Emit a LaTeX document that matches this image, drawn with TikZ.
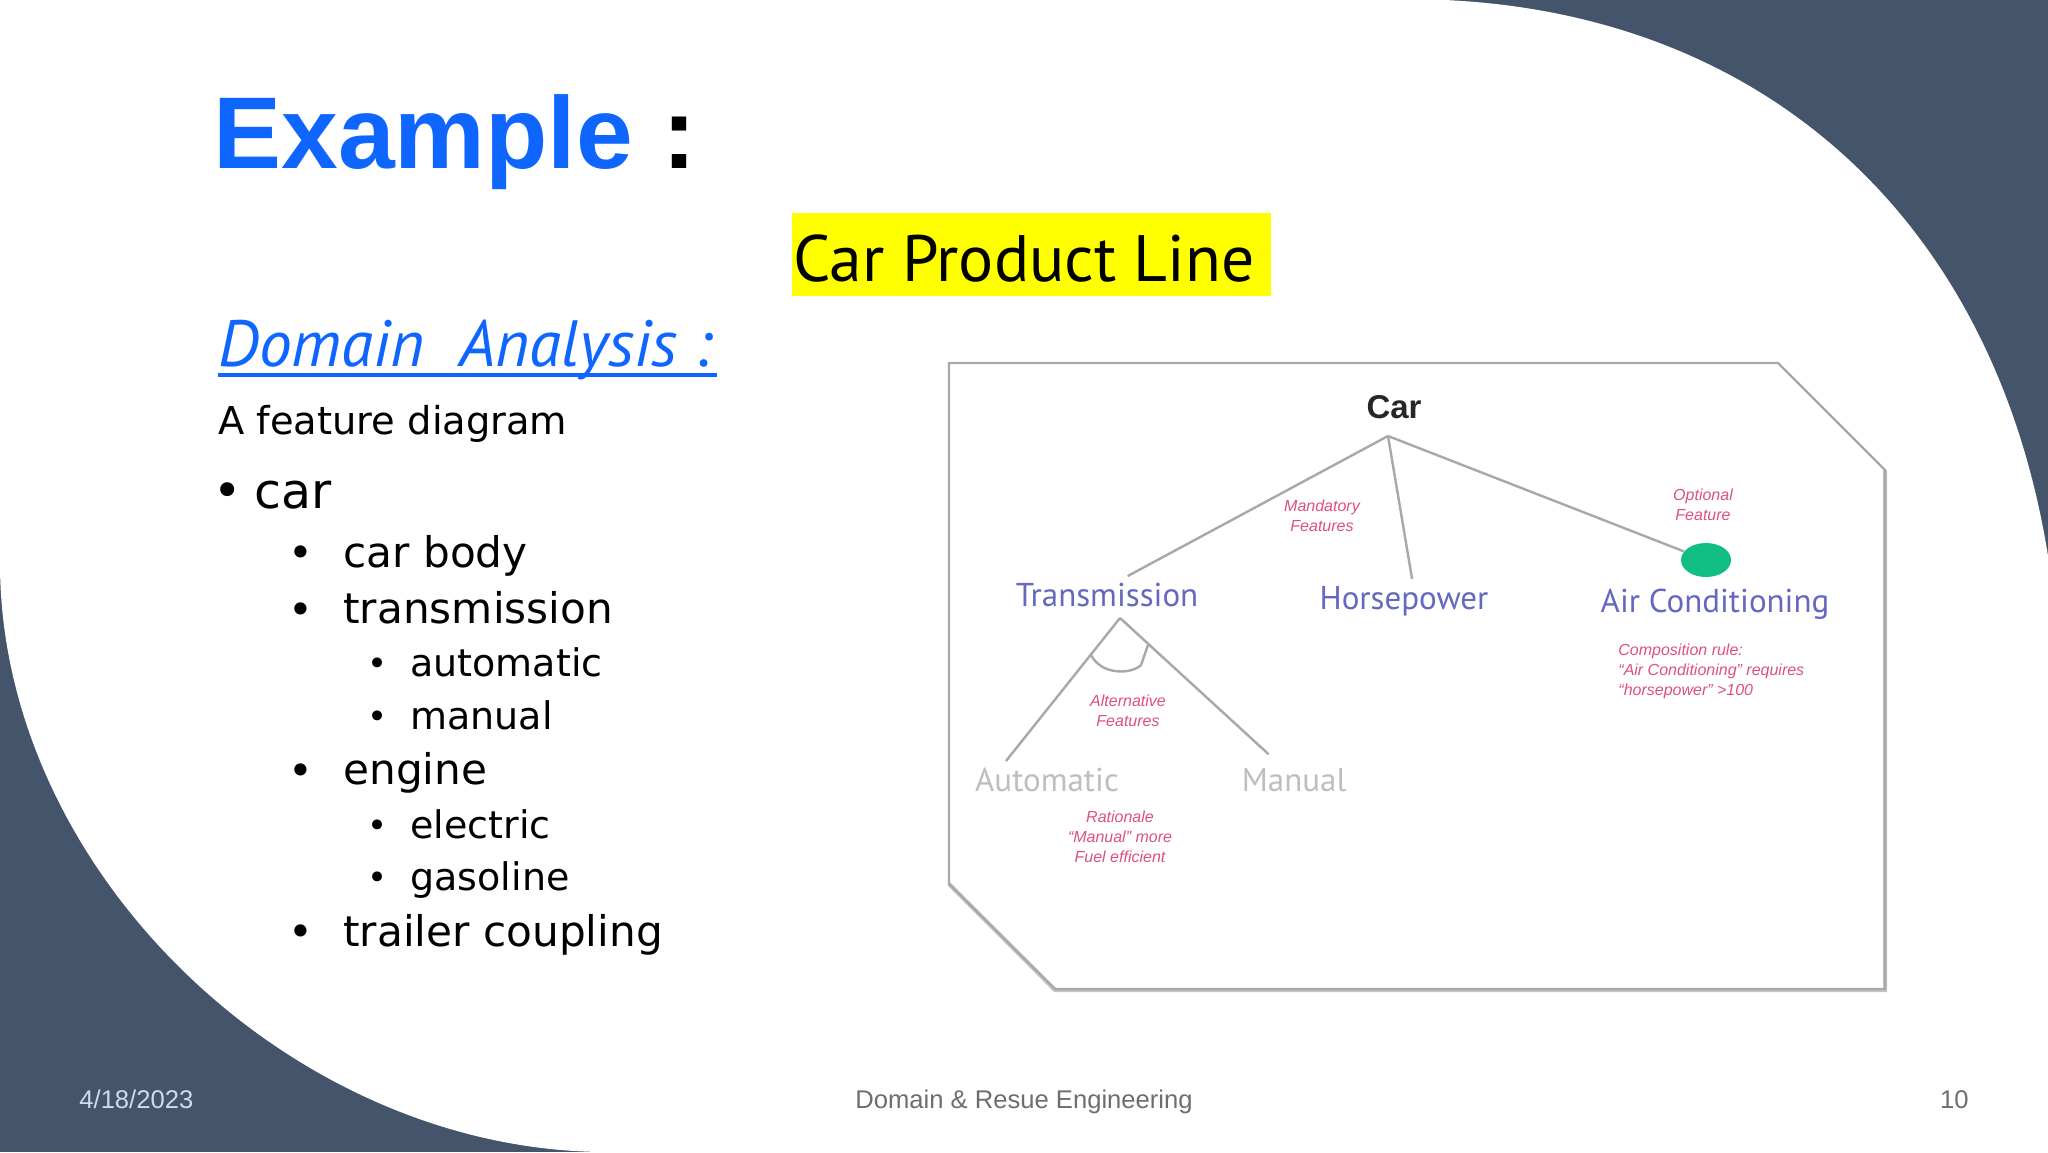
\documentclass[tikz,border=0pt]{standalone}
\usepackage{fontspec}
\usetikzlibrary{shapes.geometric}
\setmainfont{Liberation Sans}
\newfontfamily\bodyfont{DejaVu Sans}
\newfontfamily\handfont{PT Sans}
\definecolor{slatebg}{HTML}{44546A}
\definecolor{titleblue}{HTML}{0F66FF}
\definecolor{boxyellow}{RGB}{255,255,0}
\definecolor{featblue}{HTML}{6468BE}
\definecolor{featgray}{HTML}{BEBEC2}
\definecolor{notered}{HTML}{DE5080}
\definecolor{linegray}{HTML}{A8A8AC}
\definecolor{footgray}{HTML}{6E6E6E}
\definecolor{dategray}{HTML}{D0DAE8}
\definecolor{optgreen}{HTML}{10BE84}
\tikzset{
  item1/.style={anchor=base west,inner sep=0pt,font=\bodyfont\fontsize{24.5}{28}\selectfont},
  item2/.style={anchor=base west,inner sep=0pt,font=\bodyfont\fontsize{21.1}{25}\selectfont},
  item3/.style={anchor=base west,inner sep=0pt,font=\bodyfont\fontsize{19}{23}\selectfont},
  bulletmark/.style={anchor=center,inner sep=0pt,font=\bodyfont\fontsize{#1}{#1}\selectfont},
  feature/.style={anchor=base,inner sep=0pt,outer sep=3pt,text height=12pt,text depth=2pt,font=\handfont\fontsize{16.5}{20}\selectfont},
  note/.style={inner sep=0pt,align=center,font=\itshape\fontsize{8}{10}\selectfont,text=notered},
  footer/.style={anchor=base,inner sep=0pt,font=\fontsize{12.8}{16}\selectfont,text=footgray},
  link/.style={draw=linegray,line width=1.2pt}
}
\begin{document}
\begin{tikzpicture}[x=0.5pt,y=-0.5pt]
    \useasboundingbox (0,0) rectangle (2048,1152);
    \fill[slatebg] (0,0) rectangle (2048,1152);
    \fill[white] (0,0) -- (1445,0) .. controls (1770,15) and (1995,225) .. (2048,556) -- (2048,1152) -- (604,1152) .. controls (290,1150) and (0,870) .. (0,563) -- cycle;
    % left column
    \node[anchor=base west,inner sep=0pt,font=\bfseries\fontsize{51}{60}\selectfont] (title) at (213,168) {\textcolor{titleblue}{Example}\hspace{0.4pt} :};
    \node[anchor=base west,inner sep=0pt,font=\handfont\itshape\fontsize{32.7}{40}\selectfont,text=titleblue] (domain) at (218,366) {Domain\ \ Analysis :};
    \draw[titleblue,line width=1.7pt] (218,375) -- (717,375);
    \node[anchor=base west,inner sep=0pt,font=\bodyfont\fontsize{19.2}{24}\selectfont] (intro) at (218,434) {A feature diagram};
    \node[bulletmark=24] (b1) at (228,495) {•}; \node[item1] (car1) at (254,508) {car};
    \node[bulletmark=21] (b2) at (301,557) {•}; \node[item2] (body1) at (343,567) {car body};
    \node[bulletmark=21] (b3) at (301,614) {•}; \node[item2] (trans1) at (343,623) {transmission};
    \node[bulletmark=17] (b4) at (378,667) {•}; \node[item3] (auto1) at (410,676) {automatic};
    \node[bulletmark=17] (b5) at (378,720) {•}; \node[item3] (man1) at (410,729) {manual};
    \node[bulletmark=21] (b6) at (301,775) {•}; \node[item2] (eng1) at (343,784) {engine};
    \node[bulletmark=17] (b7) at (378,829) {•}; \node[item3] (elec1) at (410,838) {electric};
    \node[bulletmark=17] (b8) at (378,881) {•}; \node[item3] (gas1) at (410,890) {gasoline};
    \node[bulletmark=21] (b9) at (301,936) {•}; \node[item2] (coup1) at (343,946) {trailer coupling};
    % header box
    \node[fill=boxyellow,minimum width=239.5pt,minimum height=41.5pt,inner sep=0pt] (linebox) at (1031.5,254.5) {};
    \node[inner sep=0pt,font=\handfont\fontsize{32.8}{40}\selectfont] (line) at (1024,259) {Car Product Line};
    % feature diagram
    \draw[linegray!70,line width=2pt] (949,884) -- (1055,990) -- (1885,990) -- (1885,470);
    \draw[linegray,line width=1.1pt] (949,363) -- (1778,363) -- (1885,470) -- (1885,989) -- (1055,989) -- (949,884) -- cycle;
    \node[inner sep=0pt,font=\bfseries\fontsize{16.5}{18}\selectfont,text=black!85] (car) at (1394,407) {Car};
    \node[feature,text=featblue] (transmission) at (1107,606) {Transmission};
    \node[feature,text=featblue] (horsepower) at (1404,609) {Horsepower};
    \node[feature,text=featblue] (aircond) at (1715,612) {Air Conditioning};
    \node[feature,text=featgray] (automatic) at (1047,791) {Automatic};
    \node[feature,text=featgray] (manual) at (1294,791) {Manual};
    \node[ellipse,fill=optgreen,minimum width=25pt,minimum height=17pt,inner sep=0pt] (optional) at (1706,560) {};
    \coordinate (carhub) at (1388,436);
    \coordinate (transhub) at (1120,618);
    \coordinate (altleft) at (1091,655);
    \coordinate (altright) at (1148,645);
    \draw[link] (carhub) -- (transmission.44);
    \draw[link] (carhub) -- (horsepower.68);
    \draw[link] (carhub) -- (optional);
    \draw[link] (transhub) -- (automatic.154);
    \draw[link,shorten >=5pt] (transhub) -- (manual.132);
    \draw[link] (altleft) .. controls (1102,676) and (1132,674) .. (1141,665) -- (altright);
    \node[note] (mandnote) at (1322,516) {Mandatory\\Features};
    \node[note] (optnote) at (1703,505) {Optional\\Feature};
    \node[note] (altnote) at (1128,711) {Alternative\\Features};
    \node[note] (ratnote) at (1120,837) {Rationale\\``Manual'' more\\Fuel efficient};
    \node[note,align=left,anchor=north west] (rulenote) at (1618,643) {Composition rule:\\``Air Conditioning'' requires\\``horsepower'' >100};
    % footer
    \node[footer,anchor=base west,text=dategray] (date) at (79,1108) {4/18/2023};
    \node[footer] (deck) at (1024,1108) {Domain \& Resue Engineering};
    \node[footer,anchor=base east] (page) at (1969,1108) {10};
  \end{tikzpicture}
\end{document}
